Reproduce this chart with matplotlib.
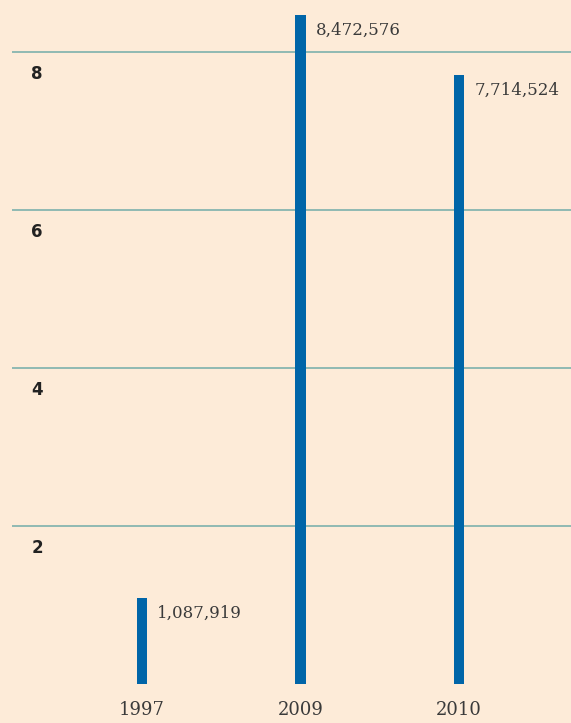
import numpy as np
import matplotlib.pyplot as plt

years = ["1997", "2009", "2010"]
values = np.array([1087919, 8472576, 7714524])
ticks = [2, 4, 6, 8]

bg = "#fdebd8"
bar_color = "#0065a8"

fig = plt.figure(figsize=(5.71, 7.23), dpi=100, facecolor=bg)
ax = fig.add_axes([12 / 571, 39 / 723, 1 - 12 / 571, 684 / 723])
ax.set_facecolor(bg)

x = np.arange(len(years))
vals_m = values / 1e6
ax.bar(x, vals_m, width=0.065, color=bar_color, zorder=3)

ax.set_xlim(-0.82, 2.707)
ax.set_ylim(0, 684 / 79)

for t in ticks:
    ax.axhline(t, color="#72aca8", lw=1.1, zorder=1)
    ax.annotate(str(t), xy=(25 / 559, t), xycoords=("axes fraction", "data"),
                xytext=(0, -16), textcoords="offset points",
                ha="center", va="center", fontsize=12, fontweight="bold",
                color="#222222", family="DejaVu Sans")

for xi, v, raw in zip(x, vals_m, values):
    ax.annotate(f"{raw:,}", xy=(xi, v), xytext=(11, -11), textcoords="offset points",
                ha="left", va="center", fontsize=12, color="#3a3a3a",
                family="DejaVu Serif")

for xi, yr in zip(x, years):
    ax.annotate(yr, xy=(xi, 0), xytext=(0, -19), textcoords="offset points",
                ha="center", va="center", fontsize=13, color="#3a3a3a",
                family="DejaVu Serif", annotation_clip=False)

for s in ax.spines.values():
    s.set_visible(False)
ax.set_xticks([])
ax.set_yticks([])

fig.savefig("out.png", dpi=100, facecolor=bg)
